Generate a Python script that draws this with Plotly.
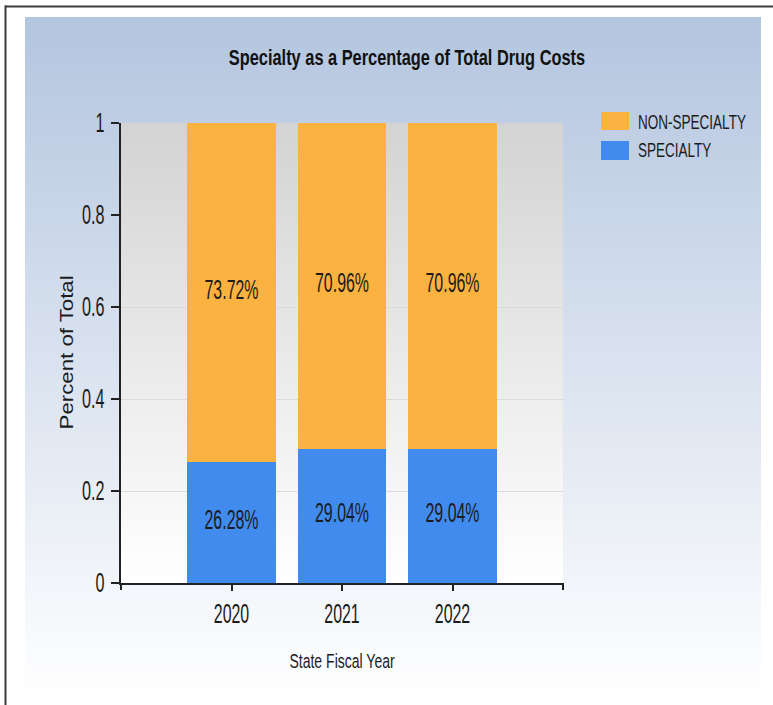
import base64
import json
import plotly.graph_objects as go

# State fiscal years and each year's share of total drug cost
years = ["2020", "2021", "2022"]
specialty_share = [0.2628, 0.2904, 0.2904]
non_specialty_share = [0.7372, 0.7096, 0.7096]

series_names = ["SPECIALTY", "NON-SPECIALTY"]
series_colors = ["#418BEF", "#FBB241"]

y_ticks = [0, 0.2, 0.4, 0.6, 0.8, 1]
y_tick_text = ["0", "0.2", "0.4", "0.6", "0.8", "1"]

W, H = 773, 705
L, R, T, B = 121, 210, 123, 122
PW, PH = W - L - R, H - T - B

FONT = "Liberation Sans, Arial, sans-serif"
INK = "#1c1c1c"


def px_x(px):
    return (px - L) / PW


def px_y(py):
    return (H - B - py) / PH


def gradient_uri(top, bottom):
    svg = (
        "<svg xmlns='http://www.w3.org/2000/svg' width='10' height='100' "
        "viewBox='0 0 10 100' preserveAspectRatio='none'>"
        "<defs><linearGradient id='g' x1='0' y1='0' x2='0' y2='1'>"
        f"<stop offset='0' stop-color='{top}'/>"
        f"<stop offset='1' stop-color='{bottom}'/>"
        "</linearGradient></defs>"
        "<rect width='10' height='100' fill='url(#g)'/></svg>"
    )
    return "data:image/svg+xml;base64," + base64.b64encode(svg.encode()).decode()


def pct(values):
    return [f"{v * 100:.2f}%" for v in values]


fig = go.Figure()
for name, color, values in zip(series_names, series_colors,
                               [specialty_share, non_specialty_share]):
    fig.add_trace(go.Bar(
        x=years, y=values, name=name,
        marker=dict(color=color, line=dict(width=0)),
        width=0.8,
        text=pct(values), textposition="inside", insidetextanchor="middle",
        textangle=0, constraintext="none",
        textfont=dict(family=FONT, size=27, color=INK),
        showlegend=False, hoverinfo="skip",
    ))

shapes = []
# outer frame
shapes.append(dict(type="line", xref="paper", yref="paper",
                   x0=px_x(5), x1=px_x(W + 2), y0=px_y(6.5), y1=px_y(6.5),
                   line=dict(color="#3c3c3c", width=2)))
shapes.append(dict(type="line", xref="paper", yref="paper",
                   x0=px_x(5.5), x1=px_x(5.5), y0=px_y(5.5), y1=px_y(H + 2),
                   line=dict(color="#3c3c3c", width=2)))
# end ticks on the category axis
for xd in (0, 1):
    shapes.append(dict(type="line", xref="x domain", yref="y domain",
                       ysizemode="pixel", yanchor=0, y0=0, y1=-7,
                       x0=xd, x1=xd, line=dict(color="#222", width=2)))

# legend (reverse of stacking order: top series listed first)
legend_rows = [(112, 130, 122), (141, 160, 150)]
annotations = []
for (y0, y1, yc), name, color in zip(legend_rows, series_names[::-1],
                                     series_colors[::-1]):
    shapes.append(dict(type="rect", xref="paper", yref="paper",
                       x0=px_x(601), x1=px_x(629), y0=px_y(y1), y1=px_y(y0),
                       fillcolor=color, line=dict(width=0)))
    annotations.append(dict(xref="paper", yref="paper", x=px_x(636), y=px_y(yc),
                            xanchor="left", yanchor="middle", align="left",
                            showarrow=False, text=name,
                            font=dict(family=FONT, size=19.5, color=INK)))

# vertical axis title
annotations.append(dict(xref="paper", yref="paper", x=px_x(67), y=0.5,
                        xanchor="center", yanchor="middle", textangle=-90,
                        showarrow=False, text="Percent of Total",
                        font=dict(family=FONT, size=17.5, color=INK)))

fig.update_layout(
    width=W, height=H,
    margin=dict(l=L, r=R, t=T, b=B, pad=0),
    paper_bgcolor="white", plot_bgcolor="rgba(0,0,0,0)",
    barmode="stack", bargap=0.2,
    title=dict(text="<b>Specialty as a Percentage of Total Drug Costs</b>",
               xref="container", yref="container",
               x=407 / W, y=1 - 57 / H, xanchor="center", yanchor="middle",
               font=dict(family=FONT, size=22, color="#111")),
    images=[
        dict(source=gradient_uri("#B3C5DF", "#FFFFFF"), xref="paper", yref="paper",
             x=px_x(25), y=px_y(17), sizex=(761 - 25) / PW, sizey=(700 - 17) / PH,
             xanchor="left", yanchor="top", sizing="stretch", layer="below"),
        dict(source=gradient_uri("#D3D3D3", "#FFFFFF"), xref="paper", yref="paper",
             x=0, y=1, sizex=1, sizey=1,
             xanchor="left", yanchor="top", sizing="stretch", layer="below"),
    ],
    xaxis=dict(
        type="category", range=[-1, 3],
        showgrid=False, showline=True, linecolor="#222", linewidth=2,
        ticks="outside", ticklen=6, tickwidth=2, tickcolor="#222",
        ticklabelstandoff=0,
        tickfont=dict(family=FONT, size=27, color=INK),
        title=dict(text="State Fiscal Year", standoff=26,
                   font=dict(family=FONT, size=19.5, color=INK)),
        zeroline=False, fixedrange=True,
    ),
    yaxis=dict(
        range=[0, 1], tickvals=y_ticks, ticktext=y_tick_text,
        showgrid=True, gridcolor="#DADADA", gridwidth=1,
        showline=True, linecolor="#222", linewidth=2,
        ticks="outside", ticklen=8, tickwidth=2, tickcolor="#222",
        ticklabelstandoff=1,
        tickfont=dict(family=FONT, size=27, color=INK),
        zeroline=False, fixedrange=True,
    ),
    shapes=shapes, annotations=annotations,
)

# Condensed lettering: [horizontal scale along the text, vertical nudge in px]
condense = {
    "g.xtick text": [0.59, 0],
    "g.ytick text": [0.60, 0],
    "text.bartext": [0.59, -3],
    "text.gtitle": [0.745, 0],
    "text.xtitle": [0.72, 0],
    "g.annotation text.annotation-text": [0.694, 0],
}

post = """
var gd = document.querySelector('.js-plotly-plot');
var rules = %s;
function squeeze(t, sx, dy) {
  var b = t.getBBox();
  var a = t.getAttribute('text-anchor') || 'start';
  var ax = a === 'end' ? b.x + b.width : (a === 'middle' ? b.x + b.width / 2 : b.x);
  var ay = b.y + b.height / 2;
  var tr = t.getAttribute('transform') || '';
  t.setAttribute('transform', tr + ' translate(0,' + dy + ') translate(' + ax + ',' + ay +
                 ') scale(' + sx + ',1) translate(' + (-ax) + ',' + (-ay) + ')');
}
Object.keys(rules).forEach(function (sel) {
  gd.querySelectorAll(sel).forEach(function (t) {
    if (t.textContent === 'Percent of Total') { squeeze(t, 1.27, 0); return; }
    squeeze(t, rules[sel][0], rules[sel][1]);
  });
});
""" % json.dumps(condense)

fig.write_html("out.html", config={"displayModeBar": False}, post_script=post)
